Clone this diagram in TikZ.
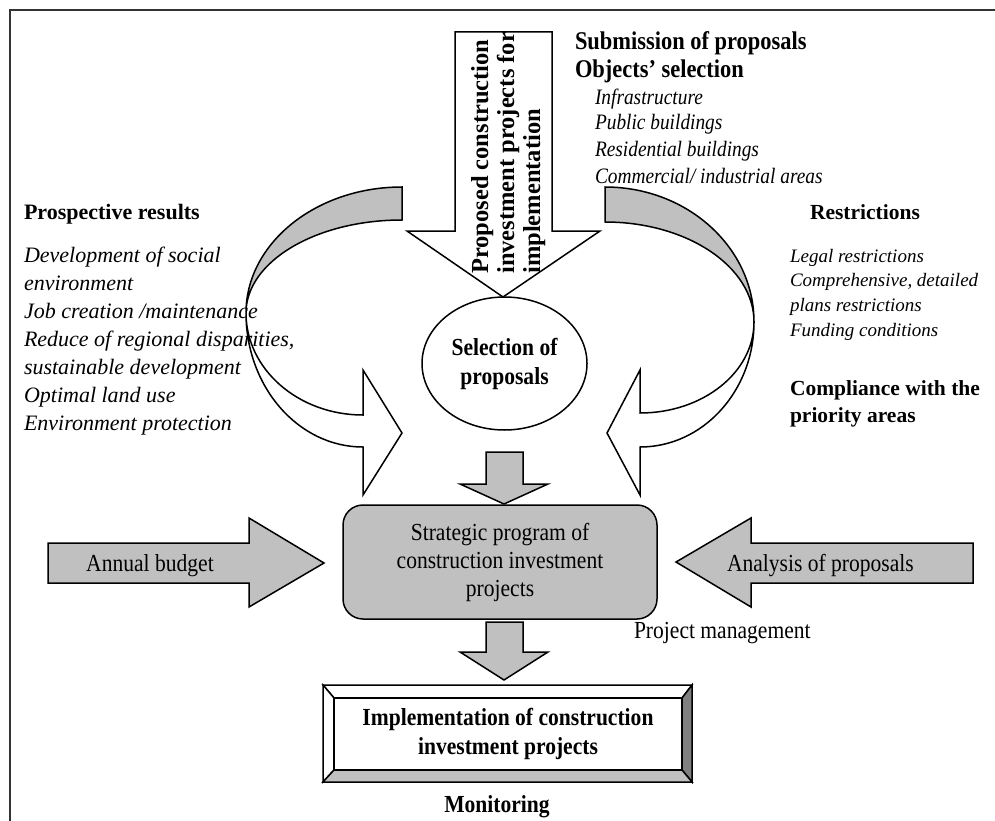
\documentclass[tikz,border=0pt]{standalone}
\usepackage{fontspec}
\setmainfont{Liberation Serif}
\newfontfamily\narrowserif[FakeStretch=0.88]{Liberation Serif}
\usetikzlibrary{shapes.geometric}
\definecolor{shade}{RGB}{192,192,192}
\definecolor{darkshade}{RGB}{128,128,128}
\newcommand{\setfs}[2]{\fontsize{#1}{#2}\selectfont}
\tikzset{
  outline/.style={draw=black, line width=1.5pt, line join=miter},
  grayshape/.style={outline, fill=shade},
  whiteshape/.style={outline, fill=white},
  framestyle/.style={draw=black!80, line width=1.2pt},
  txt/.style={inner sep=0pt, outer sep=0pt, anchor=base west},
  ctxt/.style={inner sep=0pt, outer sep=0pt, anchor=base},
  headfont/.style={font=\setfs{25.5}{29}\narrowserif\bfseries},
  listfont/.style={font=\setfs{22}{26}\narrowserif\itshape},
  leftbold/.style={font=\setfs{22}{28}\bfseries},
  leftital/.style={font=\setfs{22}{28}\itshape},
  rightbold/.style={font=\setfs{21.5}{27}\bfseries},
  rightital/.style={font=\setfs{19}{25}\itshape},
  plainfont/.style={font=\setfs{24.5}{28}\narrowserif},
  boldnarrow/.style={font=\setfs{24.5}{29}\narrowserif\bfseries}
}
\begin{document}
\begin{tikzpicture}[x=1pt, y=-1pt]
\useasboundingbox (0,0) rectangle (995,821);
\fill[white] (0,0) rectangle (995,821);
% page frame
\draw[framestyle] (10,821) -- (10,10) -- (995,10);

% left ribbon arrow: back face, then front face with head
\draw[grayshape] (402,187) .. controls (315.8,187) and (246,243.4) .. (246,313)
  .. controls (246,261.6) and (315.8,220) .. (402,220) -- cycle;
\draw[whiteshape] (246,313) .. controls (246,387) and (298.4,447) .. (363,447)
  -- (363,495) -- (402,433) -- (363,370) -- (363,415)
  .. controls (298.4,415) and (246,369.3) .. (246,313) -- cycle;

% right ribbon arrow
\draw[grayshape] (605,187) .. controls (687.3,187) and (754,247.4) .. (754,322)
  .. controls (754,266.8) and (687.3,222) .. (605,222) -- cycle;
\draw[whiteshape] (754,322) .. controls (754,391) and (703,447) .. (640,447)
  -- (640,495) -- (607,433) -- (640,370) -- (640,413)
  .. controls (703,413) and (754,372.3) .. (754,322) -- cycle;

% large downward arrow with the proposals
\draw[whiteshape] (455,32) -- (552,32) -- (552,231) -- (600,231) -- (503,297)
  -- (407,231) -- (455,231) -- cycle;
\node[rotate=90, anchor=north west, align=left, inner sep=0pt,
      font=\setfs{24.5}{26}\bfseries] (proposed) at (471,274)
  {Proposed construction\\investment projects for\\implementation};

% selection ellipse
\node[whiteshape, ellipse, minimum width=165pt, minimum height=133pt, inner sep=0pt,
      align=center, boldnarrow] (select) at (504.5,363.5) {Selection of\\proposals};

% strategic program box
\node[grayshape, rounded corners=20pt, minimum width=314pt, minimum height=114pt,
      align=center, plainfont] (program) at (500,562)
  {Strategic program of\\construction investment\\projects};

% small arrows between the blocks
\draw[grayshape] (486,452) -- (523,452) -- (523,484) -- (548,484) -- (504,504)
  -- (460,484) -- (486,484) -- cycle;
\draw[grayshape] (486,622) -- (523,622) -- (523,652) -- (548,652) -- (504,680)
  -- (460,652) -- (486,652) -- cycle;

% side arrows
\draw[grayshape] (48,543) -- (249,543) -- (249,518) -- (324,563) -- (249,607)
  -- (249,583) -- (48,583) -- cycle;
\draw[grayshape] (973,543) -- (751,543) -- (751,518) -- (676,562) -- (751,607)
  -- (751,583) -- (973,583) -- cycle;
\node[ctxt, plainfont] (budget) at (150,571) {Annual budget};
\node[txt, plainfont] (analysis) at (727,571) {Analysis of proposals};
\node[txt, plainfont] (pm) at (634,638) {Project management};

% bevelled implementation box
\coordinate (o1) at (323,685); \coordinate (o2) at (692,685);
\coordinate (o3) at (692,782); \coordinate (o4) at (323,782);
\coordinate (i1) at (334,698); \coordinate (i2) at (682,698);
\coordinate (i3) at (682,770); \coordinate (i4) at (334,770);
\draw[whiteshape] (o1) -- (o2) -- (i2) -- (i1) -- cycle;
\draw[whiteshape] (o1) -- (i1) -- (i4) -- (o4) -- cycle;
\draw[outline, fill=darkshade] (o2) -- (o3) -- (i3) -- (i2) -- cycle;
\draw[outline, fill=shade] (o4) -- (i4) -- (i3) -- (o3) -- cycle;
\node[whiteshape, minimum width=348pt, minimum height=72pt, align=center,
      boldnarrow] (impl) at (508,734)
  {Implementation of construction\\investment projects};
\node[ctxt, boldnarrow] (monitor) at (497,812) {Monitoring};

% top right texts
\node[txt, headfont] (submit) at (575,50) {Submission of proposals};
\node[txt, headfont] (objects) at (575,78) {Objects’ selection};
\node[txt, listfont] (infra) at (595,105) {Infrastructure};
\node[txt, listfont] (public) at (595,130) {Public buildings};
\node[txt, listfont] (resid) at (595,157) {Residential buildings};
\node[txt, listfont] (comm) at (595,183) {Commercial/ industrial areas};

% left texts
\node[txt, leftbold] (prosp) at (24,219) {Prospective results};
\node[txt, leftital] (l1) at (24,262) {Development of social};
\node[txt, leftital] (l2) at (24,290) {environment};
\node[txt, leftital] (l3) at (24,318) {Job creation /maintenance};
\node[txt, leftital] (l4) at (24,346) {Reduce of regional disparities,};
\node[txt, leftital] (l5) at (24,374) {sustainable development};
\node[txt, leftital] (l6) at (24,402) {Optimal land use};
\node[txt, leftital] (l7) at (24,430) {Environment protection};

% right texts
\node[txt, rightbold] (restr) at (810,219) {Restrictions};
\node[txt, rightital] (r1) at (790,262) {Legal restrictions};
\node[txt, rightital] (r2) at (790,286) {Comprehensive, detailed};
\node[txt, rightital] (r3) at (790,311) {plans restrictions};
\node[txt, rightital] (r4) at (790,336) {Funding conditions};
\node[txt, rightbold] (compl) at (790,395) {Compliance with the};
\node[txt, rightbold] (prio) at (790,422) {priority areas};
\end{tikzpicture}
\end{document}
